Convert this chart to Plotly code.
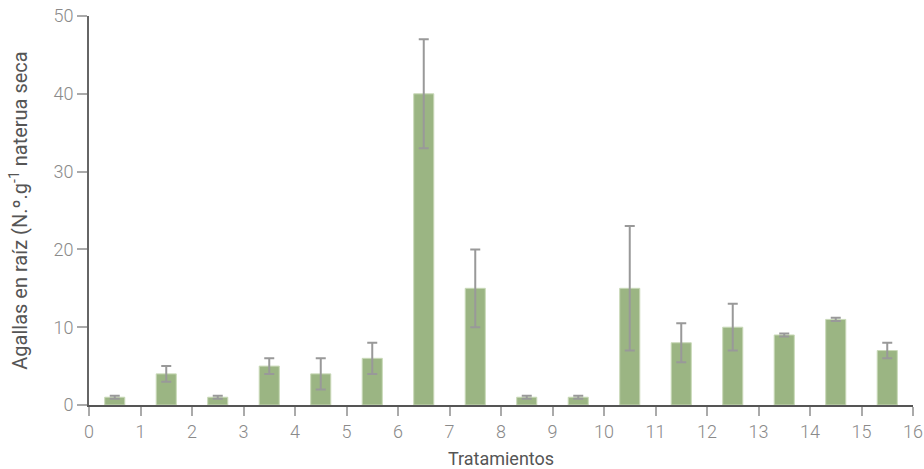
import plotly.graph_objects as go

positions = [0.5, 1.5, 2.5, 3.5, 4.5, 5.5, 6.5, 7.5, 8.5, 9.5, 10.5, 11.5, 12.5, 13.5, 14.5, 15.5]
values = [1, 4, 1, 5, 4, 6, 40, 15, 1, 1, 15, 8, 10, 9, 11, 7]
errors = [0.2, 1, 0.2, 1, 2, 2, 7, 5, 0.2, 0.2, 8, 2.5, 3, 0.2, 0.2, 1]
x_ticks = list(range(0, 17))
y_ticks = [0, 10, 20, 30, 40, 50]

fig = go.Figure()
fig.add_trace(go.Bar(
    x=positions, y=values, width=0.39,
    marker=dict(color="#9bb583", line=dict(color="#c9d9b8", width=1)),
    error_y=dict(type="data", array=errors, visible=True, color="#999999", thickness=2, width=5),
))

title_font = "Roboto, sans-serif"
tick_font = "Roboto Light, Roboto, sans-serif"
fig.update_layout(
    width=924, height=469,
    margin=dict(l=89, r=11, t=16, b=64),
    plot_bgcolor="white", paper_bgcolor="white",
    showlegend=False,
    font=dict(family=title_font, color="#555555"),
    xaxis=dict(
        range=[0, 16], tickvals=x_ticks, ticktext=[str(t) for t in x_ticks],
        showgrid=False, zeroline=False, automargin=False, ticklabeloverflow="allow",
        showline=True, linecolor="#555555", linewidth=2,
        ticks="outside", ticklen=9, tickcolor="#aaaaaa", tickwidth=2,
        tickfont=dict(family=tick_font, size=18, color="#8a8a8a"),
        title=dict(text="Tratamientos", font=dict(family=title_font, size=18, color="#555555"), standoff=12),
    ),
    yaxis=dict(
        range=[0, 50], tickvals=y_ticks,
        showgrid=False, zeroline=False, automargin=False, ticklabeloverflow="allow",
        showline=True, linecolor="#666666", linewidth=2,
        ticks="outside", ticklen=10, tickcolor="#aaaaaa", tickwidth=2,
        tickfont=dict(family=tick_font, size=18, color="#8a8a8a"),
        title=dict(text="Agallas en raíz (N.º.g<sup>-1</sup> naterua seca",
                   font=dict(family=title_font, size=20, color="#555555"), standoff=20),
    ),
)

fig.write_html("out.html",
               config={"displayModeBar": False},
               post_script="document.body.style.margin='0';document.body.style.overflow='hidden';")
